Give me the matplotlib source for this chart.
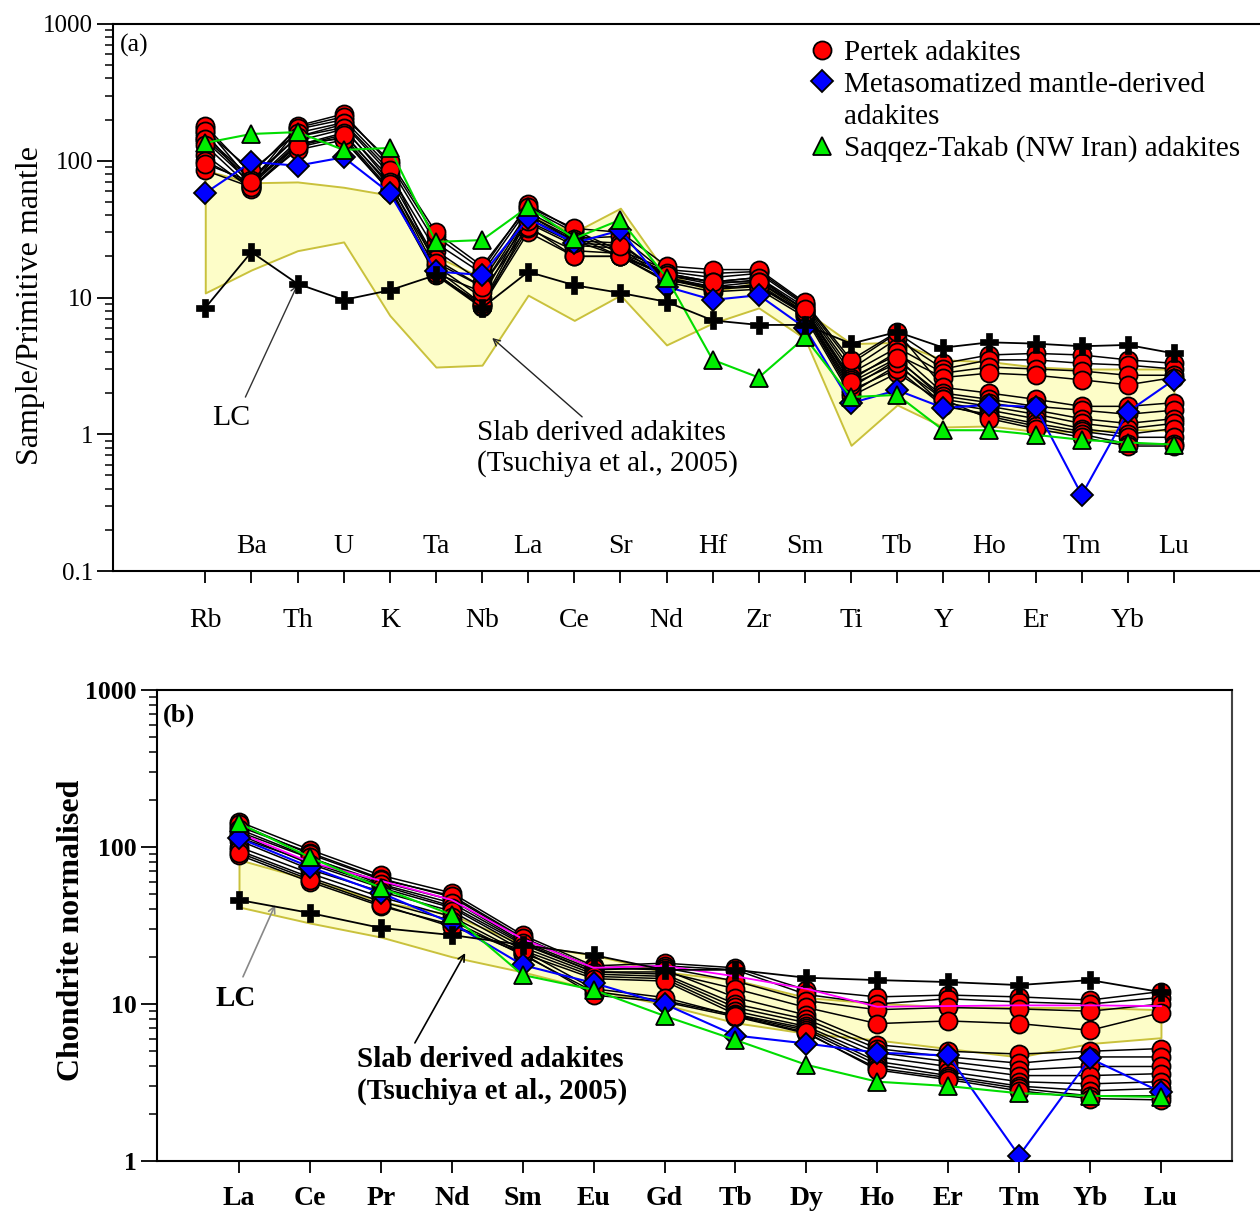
import matplotlib.pyplot as plt
from matplotlib.lines import Line2D
from matplotlib.ticker import FixedLocator, LogLocator, NullFormatter

plt.rcParams['font.family'] = ['Liberation Serif', 'DejaVu Serif']

# ---- (a) primitive-mantle normalised spider diagram ----
spider_elements = ['Rb', 'Ba', 'Th', 'U', 'K', 'Ta', 'Nb', 'La', 'Ce', 'Sr', 'Nd',
                   'Hf', 'Zr', 'Sm', 'Ti', 'Tb', 'Y', 'Ho', 'Er', 'Tm', 'Yb', 'Lu']

pertek_spider = [
    [175, 70, 180, 220, 95, 28, 16, 48, 31, 22, 16, 15, 15.5, 9.0, 3.3, 5.5, 3.3, 3.8, 3.9, 3.8, 3.5, 3.3],
    [160, 65, 170, 200, 90, 25, 15, 45, 30, 21, 15.5, 14, 15, 8.8, 3.0, 5.0, 3.0, 3.5, 3.5, 3.3, 3.2, 3.0],
    [150, 75, 150, 185, 80, 22, 13, 42, 28, 20, 15, 13, 14, 8.5, 2.8, 4.3, 2.8, 3.1, 3.0, 2.9, 2.7, 2.7],
    [140, 68, 140, 170, 75, 19, 12, 40, 26, 20, 14.5, 12.5, 13.5, 8.2, 2.6, 3.8, 2.6, 2.8, 2.7, 2.5, 2.3, 2.6],
    [180, 80, 175, 210, 100, 30, 17, 46, 32, 30, 17, 16, 16, 9.2, 3.5, 5.6, 2.2, 2.0, 1.8, 1.6, 1.6, 1.7],
    [165, 85, 160, 190, 85, 17, 10, 40, 27, 28, 15, 13, 14, 8.0, 2.5, 4.0, 2.0, 1.8, 1.6, 1.5, 1.4, 1.5],
    [145, 72, 150, 175, 70, 16, 9.0, 38, 26, 25, 14, 12, 13, 7.8, 2.2, 3.5, 1.9, 1.7, 1.5, 1.3, 1.2, 1.3],
    [130, 63, 130, 160, 65, 15, 8.5, 35, 24, 23, 13.5, 11.5, 12, 7.5, 2.0, 3.2, 1.8, 1.6, 1.4, 1.2, 1.1, 1.2],
    [110, 62, 125, 150, 62, 15, 8.6, 30, 20, 20, 13, 11, 11.5, 7.2, 1.9, 2.8, 1.7, 1.5, 1.3, 1.1, 1.0, 1.1],
    [100, 66, 135, 145, 60, 14.5, 9.0, 32, 22, 21, 14, 11.5, 12.5, 7.6, 2.1, 3.0, 1.6, 1.4, 1.2, 1.05, 0.95, 0.95],
    [85, 64, 120, 142, 60, 15, 11, 33, 20, 20, 13.4, 12, 12, 7.8, 2.3, 3.3, 1.65, 1.35, 1.15, 1.0, 0.85, 0.85],
    [95, 70, 128, 155, 68, 18, 12, 36, 25, 24, 14.5, 13, 13, 8.2, 2.4, 3.6, 1.8, 1.3, 1.1, 0.95, 0.82, 0.82],
]
metasomatized_spider = [58, 98, 92, 106, 58, 15.5, 14.6, 38, 25, 31, 12, 9.6, 10.4, 6.0,
                        1.69, 2.1, 1.56, 1.64, 1.58, 0.36, 1.46, 2.5]
saqqez_spider = [135, 157, 162, 120, 124, 25.5, 26.3, 46, 27, 37, 14, 3.5, 2.6, 5.1,
                 1.87, 1.94, 1.07, 1.07, 0.99, 0.91, 0.87, 0.84]
lc_spider = [8.4, 21.5, 12.6, 9.6, 11.3, 14.6, 8.4, 15.4, 12.3, 10.8, 9.3, 6.8, 6.3, 6.3,
             4.6, 5.6, 4.3, 4.7, 4.6, 4.4, 4.5, 3.9]
slab_upper_spider = [85, 69, 70, 64, 56, 20, 14, 40, 30, 45, 15, 11, 13, 8,
                     4.6, 4.7, 3.5, 3.4, 3.1, 3.0, 3.0, 3.0]
slab_lower_spider = [10.8, 15.9, 22, 25.5, 7.4, 3.1, 3.2, 10.4, 6.8, 10.4, 4.5, 6.5, 8.4, 5.0,
                     0.83, 1.64, 1.13, 1.15, 1.05, 1.05, 1.08, 1.07]

# ---- (b) chondrite normalised REE ----
ree_elements = ['La', 'Ce', 'Pr', 'Nd', 'Sm', 'Eu', 'Gd', 'Tb', 'Dy', 'Ho', 'Er', 'Tm', 'Yb', 'Lu']

pertek_ree = [
    [145, 96, 66, 51, 27.5, 17.5, 18.2, 17, 12.3, 11.1, 11.4, 11.1, 10.6, 12],
    [135, 92, 63, 48, 26, 17, 17.5, 16.5, 11.5, 10, 10.8, 10.3, 10, 11],
    [125, 85, 60, 46, 25, 16.5, 17, 14, 10.5, 9.2, 9.5, 9.3, 9, 10],
    [115, 80, 57, 42, 24, 16, 16, 12.5, 9.5, 7.5, 7.8, 7.5, 6.8, 8.8],
    [140, 90, 62, 49, 26.5, 17, 16.5, 11, 8.5, 5.5, 5.0, 4.8, 5.0, 5.2],
    [130, 86, 58, 44, 24.5, 16, 15.5, 10, 8, 5.2, 4.6, 4.2, 4.6, 4.6],
    [120, 78, 55, 41, 23, 15.5, 15, 9.5, 7.6, 4.9, 4.3, 3.8, 4.0, 4.0],
    [110, 72, 52, 39, 22, 15, 14.5, 9, 7.2, 4.6, 4.0, 3.5, 3.5, 3.6],
    [100, 68, 48, 36, 21, 14.5, 14, 8.6, 7, 4.3, 3.7, 3.2, 3.1, 3.2],
    [95, 64, 45, 34, 20.5, 12, 10.5, 8.5, 6.8, 4.1, 3.5, 3.0, 2.8, 2.9],
    [89, 60, 42, 32, 21, 11.4, 10.3, 8.3, 6.5, 3.9, 3.4, 2.9, 2.6, 2.6],
    [92, 62, 43, 31, 22, 12.5, 11, 8.4, 6.6, 3.8, 3.3, 2.8, 2.5, 2.45],
]
pertek_ree_magenta = [123, 80, 61, 46, 26, 17, 17.5, 15, 12.5, 9.6, 9.7, 9.8, 9.8, 9.7]
metasomatized_ree = [114, 74.6, 51, 32.8, 17.7, 13.6, 10, 6.3, 5.6, 4.9, 4.7, 1.08, 4.5, 2.75]
saqqez_ree = [142, 86, 55, 37, 15.3, 12.3, 8.4, 5.9, 4.1, 3.2, 3.0, 2.7, 2.6, 2.56]
lc_ree = [46, 38, 30.5, 27.5, 23.8, 20.5, 16.5, 16.5, 14.7, 14.2, 13.8, 13.2, 14.2, 11.9]
slab_upper_ree = [83, 62, 45, 37, 24, 20.5, 16, 14.2, 11, 10.1, 9.6, 9.5, 9.5, 9.2]
slab_lower_ree = [41.5, 32.8, 26.7, 20, 16, 12.3, 9.9, 7.6, 6.5, 5.9, 5.2, 4.6, 5.6, 6.1]

fill_yellow = '#fdfdc8'
edge_yellow = '#c9c13c'
circle_kw = dict(marker='o', mfc='#ff0000', mec='black', ms=13, mew=1.3, color='black', lw=1.1)
diamond_kw = dict(marker='D', mfc='#0000ff', mec='black', ms=11, mew=1.3, color='#0000ff', lw=1.5)
triangle_kw = dict(marker='^', mfc='#00ee00', mec='black', ms=13, mew=1.3, color='#00dd00', lw=1.5)
plus_kw = dict(marker='P', mfc='black', mec='black', ms=13, mew=0.5, color='black', lw=1.3)

fig = plt.figure(figsize=(12.6, 12.11), dpi=100)
ax1 = fig.add_axes([113 / 1260, 1 - 571 / 1211, 1 - 113 / 1260, 547 / 1211])
ax2 = fig.add_axes([157 / 1260, 1 - 1161 / 1211, 1075 / 1260, 471 / 1211])


def style_log_axis(ax, labels, bold):
    weight = 'bold' if bold else 'normal'
    ax.set_yscale('log')
    ax.yaxis.set_major_locator(FixedLocator([float(v) for v in labels]))
    ax.set_yticklabels(labels, fontsize=18.5 if bold else 18, fontweight=weight)
    ax.yaxis.set_minor_locator(LogLocator(base=10, subs=range(2, 10)))
    ax.yaxis.set_minor_formatter(NullFormatter())
    ax.tick_params(axis='y', which='major', direction='out', length=11.5, width=1.3, pad=3)
    ax.tick_params(axis='y', which='minor', direction='out', length=6, width=1.1)
    ax.tick_params(axis='x', which='major', direction='out', length=8.5, width=1.3)
    for s in ax.spines.values():
        s.set_linewidth(1.5)


# panel (a)
xa = list(range(len(spider_elements)))
ax1.fill_between(xa, slab_lower_spider, slab_upper_spider, facecolor=fill_yellow,
                 edgecolor=edge_yellow, lw=1.4, zorder=1)
for sample in pertek_spider:
    ax1.plot(xa, sample, zorder=2, **circle_kw)
ax1.plot(xa, metasomatized_spider, zorder=3, **diamond_kw)
ax1.plot(xa, saqqez_spider, zorder=3, **triangle_kw)
ax1.plot(xa, lc_spider, zorder=4, **plus_kw)

style_log_axis(ax1, ['0.1', '1', '10', '100', '1000'], bold=False)
ax1.set_ylim(0.1, 1000)
ax1.set_xlim(-2, (1260 - 205) / 46.14)
ax1.set_xticks(xa)
ax1.set_xticklabels([])
ax1.spines['right'].set_visible(False)
for i, el in enumerate(spider_elements):
    ypos = 0.044 if i % 2 else -0.0896
    ax1.text(i, ypos, el, transform=ax1.get_xaxis_transform(), ha='center', va='center',
             fontsize=20, clip_on=False)
ax1.set_ylabel('Sample/Primitive mantle', fontsize=23)
ax1.yaxis.set_label_coords(-0.059, 0.485)
ax1.text(0.006, 0.96, '(a)', transform=ax1.transAxes, fontsize=18.5, ha='left', va='center')

ax1.text(0.56, 1.31, 'LC', fontsize=21.5, ha='center', va='center')
ax1.annotate('', xy=(2.0, 12.4), xytext=(0.87, 1.87),
             arrowprops=dict(arrowstyle='->', color='#333333', lw=1.0,
                             shrinkA=0, shrinkB=0, mutation_scale=12))
ax1.text(5.9, 0.79, 'Slab derived adakites\n(Tsuchiya et al., 2005)', fontsize=21,
         ha='left', va='center', linespacing=1.22)
ax1.annotate('', xy=(6.22, 5.06), xytext=(8.17, 1.34),
             arrowprops=dict(arrowstyle='->', color='#222222', lw=1.0,
                             shrinkA=0, shrinkB=0, mutation_scale=12))

handles = [
    Line2D([], [], ls='none', marker='o', mfc='#ff0000', mec='black', ms=13, mew=1.3),
    Line2D([], [], ls='none', marker='D', mfc='#0000ff', mec='black', ms=11, mew=1.3),
    Line2D([], [], ls='none', marker='none'),
    Line2D([], [], ls='none', marker='^', mfc='#00ee00', mec='black', ms=13, mew=1.3),
]
labels = ['Pertek adakites', 'Metasomatized mantle-derived', 'adakites',
          'Saqqez-Takab (NW Iran) adakites']
ax1.legend(handles, labels, loc='upper left', bbox_to_anchor=(0.6054, 0.972),
           frameon=False, fontsize=21, handlelength=1.0, handletextpad=0.26,
           borderpad=0, borderaxespad=0, labelspacing=0.19)

# panel (b)
xb = list(range(len(ree_elements)))
ax2.fill_between(xb, slab_lower_ree, slab_upper_ree, facecolor=fill_yellow,
                 edgecolor=edge_yellow, lw=1.4, zorder=1)
for sample in pertek_ree:
    ax2.plot(xb, sample, zorder=2, **circle_kw)
ax2.plot(xb, pertek_ree_magenta, color='#ff00ff', lw=1.3, zorder=2)
ax2.plot(xb, metasomatized_ree, zorder=3, **diamond_kw)
ax2.plot(xb, saqqez_ree, zorder=3, **triangle_kw)
ax2.plot(xb, lc_ree, zorder=4, **plus_kw)

style_log_axis(ax2, ['1', '10', '100', '1000'], bold=True)
ax2.set_ylim(1, 1000)
ax2.set_xlim((157 - 239) / 70.92, (1232 - 239) / 70.92)
ax2.set_xticks(xb)
ax2.set_xticklabels(ree_elements, fontsize=20, fontweight='bold')
ax2.tick_params(axis='x', pad=9.5)
ax2.spines['right'].set_color('#444444')
ax2.set_ylabel('Chondrite normalised', fontsize=23, fontweight='bold')
ax2.yaxis.set_label_coords(-0.066, 0.49)
ax2.text(0.0056, 0.947, '(b)', transform=ax2.transAxes, fontsize=19, fontweight='bold',
         ha='left', va='center')

ax2.text(-0.04, 10.9, 'LC', fontsize=21, fontweight='bold', ha='center', va='center')
ax2.annotate('', xy=(0.51, 42.8), xytext=(0.056, 14.9),
             arrowprops=dict(arrowstyle='->', color='#888888', lw=1.2,
                             shrinkA=0, shrinkB=0, mutation_scale=12))
ax2.text(1.664, 3.48, 'Slab derived adakites\n(Tsuchiya et al., 2005)', fontsize=21,
         fontweight='bold', ha='left', va='center', linespacing=1.22)
ax2.annotate('', xy=(3.19, 21.1), xytext=(2.48, 5.65),
             arrowprops=dict(arrowstyle='->', color='black', lw=1.2,
                             shrinkA=0, shrinkB=0, mutation_scale=12))

fig.savefig('out.png', dpi=100)
